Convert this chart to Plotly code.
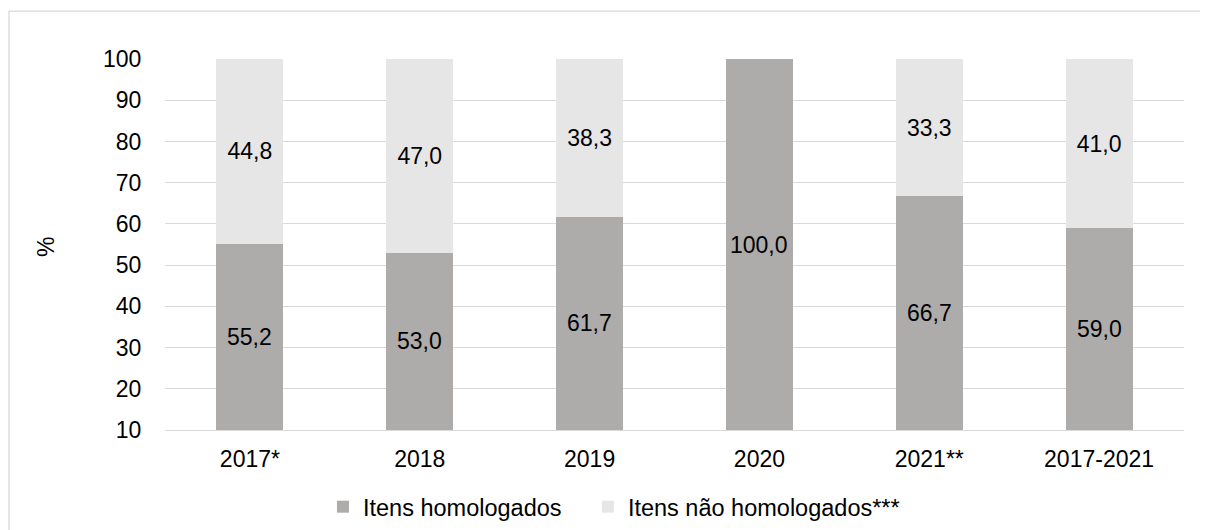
import plotly.graph_objects as go

categories = ["2017*", "2018", "2019", "2020", "2021**", "2017-2021"]
homologados = [55.2, 53.0, 61.7, 100.0, 66.7, 59.0]
nao_homologados = [44.8, 47.0, 38.3, 0.0, 33.3, 41.0]
y_ticks = [10, 20, 30, 40, 50, 60, 70, 80, 90, 100]
y_range = [10, 100]

FONT = "Liberation Sans, Arial, sans-serif"
FS = 23
DARK = "#AEABAB"
LIGHT = "#E7E6E6"


def fmt(v):
    return f"{v:.1f}".replace(".", ",")


fig = go.Figure()
fig.add_trace(go.Bar(
    name="Itens homologados", x=categories, y=homologados,
    marker=dict(color=DARK, line=dict(width=0)),
    hoverinfo="skip", legend="legend",
))
fig.add_trace(go.Bar(
    name="Itens não homologados***", x=categories, y=nao_homologados,
    marker=dict(color=LIGHT, line=dict(width=0)),
    text=[fmt(v) if v > 0 else "" for v in nao_homologados],
    textposition="inside", insidetextanchor="middle",
    textfont=dict(family=FONT, size=FS, color="black"),
    hoverinfo="skip", legend="legend2",
))

# labels for the lower segment, centred on the visible part of each bar
for i, v in enumerate(homologados):
    fig.add_annotation(
        x=i, y=(max(y_range[0], 0) + v) / 2, text=fmt(v), showarrow=False,
        font=dict(family=FONT, size=FS, color="black"),
        xanchor="center", yanchor="middle",
    )

legend_common = dict(orientation="h", xanchor="left", y=-0.148, yanchor="top",
                     font=dict(size=23.5), itemclick=False, itemdoubleclick=False,
                     bgcolor="rgba(0,0,0,0)")

fig.update_layout(
    barmode="stack",
    bargap=0.605,
    width=1208, height=530,
    margin=dict(l=157, r=32, t=51, b=108, autoexpand=False),
    paper_bgcolor="white", plot_bgcolor="white",
    font=dict(family=FONT, size=FS, color="black"),
    showlegend=True,
    legend=dict(x=0.155, **legend_common),
    legend2=dict(x=0.415, **legend_common),
)
fig.update_yaxes(
    range=y_range, tickvals=y_ticks, showgrid=True, gridcolor="#D9D9D9",
    gridwidth=1.3, zeroline=False, showline=False,
    ticks="outside", ticklen=18, tickcolor="rgba(0,0,0,0)",
    tickfont=dict(size=FS),
)
fig.update_xaxes(
    type="category", categoryorder="array", categoryarray=categories,
    range=[-0.5, len(categories) - 0.5],
    showline=True, linecolor="#D9D9D9", linewidth=1.3,
    ticks="outside", ticklen=8, tickcolor="rgba(0,0,0,0)",
    tickfont=dict(size=FS),
)
fig.add_annotation(
    text="%", xref="paper", yref="paper", x=-0.1168, y=0.493,
    showarrow=False, textangle=-90, font=dict(size=FS),
    xanchor="center", yanchor="middle",
)
fig.add_shape(
    type="rect", xref="paper", yref="paper",
    x0=(1 - 157) / 1019, x1=1.1, y0=-0.4, y1=1.129,
    line=dict(color="#D9D9D9", width=1.3), fillcolor="rgba(0,0,0,0)",
    layer="below",
)

fig.write_html("out.html")
